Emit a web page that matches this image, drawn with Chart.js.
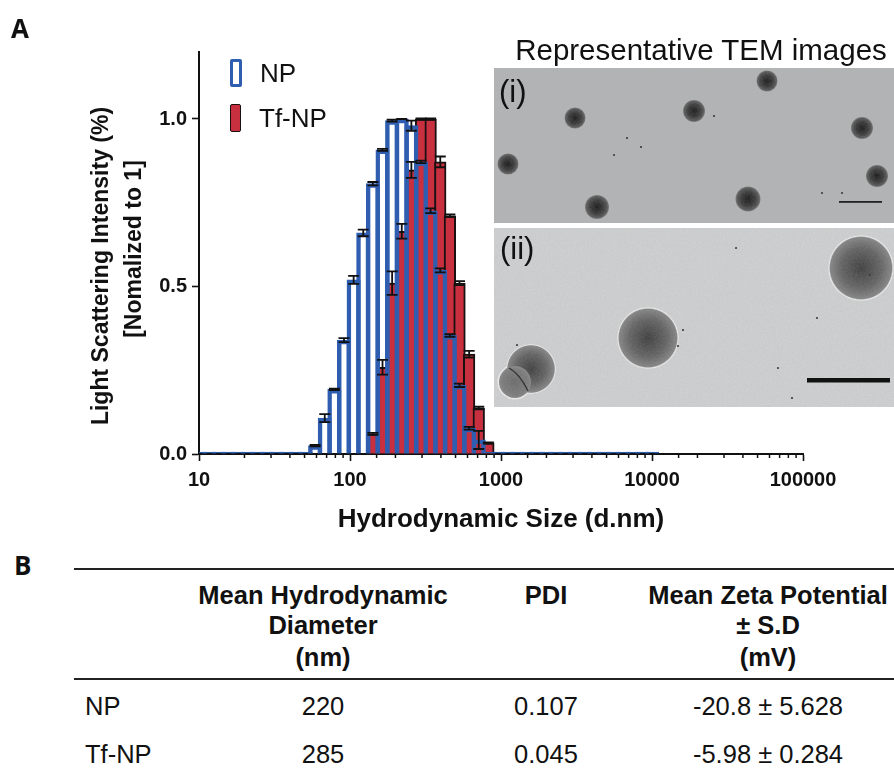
<!DOCTYPE html>
<html>
<head>
<meta charset="utf-8">
<title>Hydrodynamic size</title>
<script src="https://cdn.jsdelivr.net/npm/chart.js@4"></script>
<style>
  html, body { margin: 0; padding: 0; background: #fff; }
  body { width: 894px; height: 769px; position: relative; overflow: hidden; font-family: "Liberation Sans", Arial, sans-serif; color: #111; }
  #chartBox { position: absolute; left: 0; top: 0; width: 894px; height: 540px; }
  .abs { position: absolute; white-space: nowrap; }
  .ctr { transform: translate(-50%, -50%); text-align: center; }
  .mid { transform: translateY(-50%); }
  .rot { transform: translate(-50%, -50%) rotate(-90deg); }
  .rule { position: absolute; left: 74px; width: 820px; height: 2px; background: #222; }
  .swatch { position: absolute; box-sizing: border-box; border-radius: 2px; }
  svg { position: absolute; left: 0; top: 0; }
</style>
</head>
<body>
<div id="chartBox"><canvas id="sizeChart" width="894" height="540"></canvas></div>

<!-- TEM panels -->
<svg width="894" height="420" style="pointer-events:none">
  <defs>
    <filter id="grainA" x="0" y="0" width="100%" height="100%">
      <feTurbulence type="fractalNoise" baseFrequency="0.55" numOctaves="2" seed="4"/>
      <feColorMatrix type="matrix" values="0 0 0 0 0.4  0 0 0 0 0.4  0 0 0 0 0.4  0.7 0 0 0 -0.15"/>
    </filter>
    <radialGradient id="dotA">
      <stop offset="0" stop-color="#1c1c1c"/>
      <stop offset="0.55" stop-color="#3a3a3a"/>
      <stop offset="0.88" stop-color="#5a5a5a"/>
      <stop offset="1" stop-color="#7d7d7d"/>
    </radialGradient>
    <radialGradient id="dotB">
      <stop offset="0" stop-color="#3f3f3f"/>
      <stop offset="0.6" stop-color="#636363"/>
      <stop offset="0.93" stop-color="#858585"/>
      <stop offset="0.97" stop-color="#f0f0f0"/>
      <stop offset="1" stop-color="#d8d8d8"/>
    </radialGradient>
    <radialGradient id="dotC">
      <stop offset="0" stop-color="#6b6b6b"/>
      <stop offset="0.85" stop-color="#7d7d7d"/>
      <stop offset="1" stop-color="#8a8a8a"/>
    </radialGradient>
    <clipPath id="clipI"><rect x="494" y="68" width="400" height="155"/></clipPath>
    <clipPath id="clipII"><rect x="494" y="228" width="400" height="179"/></clipPath>
  </defs>
  <g id="panelI" clip-path="url(#clipI)"><rect x="494" y="68" width="400" height="155" fill="#b2b4b5"/></g>
  <g id="panelII" clip-path="url(#clipII)"><rect x="494" y="228" width="400" height="179" fill="#cfd0d1"/></g>
</svg>

<script>
// --- data ---
const sizeBins = [10.1, 11.7, 13.54, 15.69, 18.17, 21.04, 24.36, 28.21, 32.67, 37.84, 43.82, 50.75,
  58.77, 68.06, 78.82, 91.28, 105.7, 122.4, 141.8, 164.2, 190.1, 220.2, 255, 295.3, 342, 396.1,
  458.7, 531.2, 615.1, 712.4, 825, 955.4, 1106, 1281, 1484, 1718, 1990, 2305, 2669, 3091, 3580,
  4145, 4801, 5560, 6439, 7456, 8635, 10000];

const npValues = [0, 0, 0, 0, 0, 0, 0, 0, 0, 0, 0, 0,
  0.025, 0.107, 0.193, 0.34, 0.52, 0.66, 0.807, 0.908, 0.995, 1.0, 0.98, 0.872, 0.726, 0.548,
  0.354, 0.205, 0.077, 0.042, 0, 0, 0, 0, 0, 0, 0, 0, 0, 0, 0, 0, 0, 0, 0, 0, 0, 0];
const npErrors = [0, 0, 0, 0, 0, 0, 0, 0, 0, 0, 0, 0,
  0.002, 0.012, 0.002, 0.006, 0.012, 0.01, 0.005, 0.003, 0.003, 0, 0.015, 0.004, 0.007, 0.006,
  0.004, 0.005, 0.004, 0.027, 0, 0, 0, 0, 0, 0, 0, 0, 0, 0, 0, 0, 0, 0, 0, 0, 0, 0];

const tfValues = [0, 0, 0, 0, 0, 0, 0, 0, 0, 0, 0, 0,
  0, 0, 0, 0, 0, 0, 0.06, 0.259, 0.51, 0.665, 0.848, 1.0, 1.0, 0.872,
  0.711, 0.51, 0.298, 0.137, 0.033, 0, 0, 0, 0, 0, 0, 0, 0, 0, 0, 0, 0, 0, 0, 0, 0, 0];
const tfErrors = [0, 0, 0, 0, 0, 0, 0, 0, 0, 0, 0, 0,
  0, 0, 0, 0, 0, 0, 0.003, 0.022, 0.035, 0.022, 0.024, 0.002, 0.002, 0.016,
  0.004, 0.006, 0.01, 0.004, 0.002, 0, 0, 0, 0, 0, 0, 0, 0, 0, 0, 0, 0, 0, 0, 0, 0, 0];

const yTicks = [0, 0.5, 1];
const xLabels = [10, 100, 1000, 10000, 100000];

const tableHead = [['Mean Hydrodynamic', 'Diameter', '(nm)'], ['PDI'], ['Mean Zeta Potential', '\u00b1 S.D', '(mV)']];
const tableRowNames = ['NP', 'Tf-NP'];
const tableDiameter = ['220', '285'];
const tablePdi = ['0.107', '0.045'];
const tableZeta = ['-20.8 \u00b1 5.628', '-5.98 \u00b1 0.284'];

const BLUE = '#2f5db0';
const RED = '#c8303f';

// --- small html text helper ---
function addText(str, x, y, size, cls, bold, extra) {
  const el = document.createElement('div');
  el.className = 'abs ' + cls;
  el.textContent = str;
  el.style.left = x + 'px';
  el.style.top = y + 'px';
  el.style.fontSize = size + 'px';
  if (bold) el.style.fontWeight = 'bold';
  if (extra) Object.assign(el.style, extra);
  document.body.appendChild(el);
  return el;
}

// error bars and short minor ticks, both placed through the chart scales
const extrasPlugin = {
  id: 'extras',
  afterDraw(chart) {
    const { ctx, scales } = chart;
    const x = scales.x, y = scales.y;
    ctx.save();
    ctx.strokeStyle = '#111';
    ctx.lineWidth = 1.5;
    x.ticks.forEach(t => {
      if (xLabels.includes(t.value)) return;
      const px = x.getPixelForValue(t.value);
      ctx.beginPath();
      ctx.moveTo(px, y.bottom);
      ctx.lineTo(px, y.bottom + 4);
      ctx.stroke();
    });
    const drawErrors = (values, errors) => {
      sizeBins.forEach((s, i) => {
        if (!values[i]) return;
        const px = x.getPixelForValue(s);
        const top = y.getPixelForValue(values[i] + errors[i]);
        const bot = y.getPixelForValue(values[i] - errors[i]);
        ctx.lineWidth = 1.8;
        ctx.beginPath();
        ctx.moveTo(px, top); ctx.lineTo(px, bot);
        ctx.moveTo(px - 5.5, top); ctx.lineTo(px + 5.5, top);
        ctx.moveTo(px - 5.5, bot); ctx.lineTo(px + 5.5, bot);
        ctx.stroke();
      });
    };
    drawErrors(tfValues, tfErrors);
    drawErrors(npValues, npErrors);
    ctx.restore();
  }
};

const tickFont = { family: '"Liberation Sans", Arial, sans-serif', size: 20, weight: 'bold' };
const titleFont = { family: '"Liberation Sans", Arial, sans-serif', size: 26, weight: 'bold' };

new Chart(document.getElementById('sizeChart'), {
  type: 'bar',
  data: {
    datasets: [
      {
        label: 'NP',
        data: sizeBins.map((s, i) => ({ x: s, y: npValues[i] })),
        backgroundColor: 'rgba(0,0,0,0)',
        borderColor: BLUE,
        borderWidth: 3.8,
        borderSkipped: 'bottom',
        barThickness: 13.4,
        minBarLength: 2,
        grouped: false,
        order: 1
      },
      {
        label: 'Tf-NP',
        data: sizeBins.map((s, i) => ({ x: s, y: tfValues[i] })),
        backgroundColor: RED,
        borderColor: '#1a1012',
        borderWidth: 2,
        borderSkipped: 'bottom',
        barThickness: 11.6,
        grouped: false,
        order: 2
      }
    ]
  },
  options: {
    responsive: false,
    animation: false,
    devicePixelRatio: 1,
    layout: { padding: { left: 85, top: 52, right: 91, bottom: 5 } },
    plugins: { legend: { display: false }, tooltip: { enabled: false } },
    scales: {
      x: {
        type: 'logarithmic',
        min: 10,
        max: 100000,
        offset: false,
        afterFit: s => { s.height = 81; },
        grid: {
          display: true,
          drawOnChartArea: false,
          drawTicks: true,
          tickLength: 7,
          tickWidth: 1.6,
          tickColor: c => (xLabels.includes(c.tick && c.tick.value) ? '#111' : 'rgba(0,0,0,0)'),
          offset: false
        },
        border: { color: '#111', width: 2 },
        ticks: {
          autoSkip: false,
          maxRotation: 0,
          color: '#111',
          font: tickFont,
          padding: 7,
          callback: v => (xLabels.includes(v) ? String(v) : '')
        },
        title: { display: true, text: 'Hydrodynamic Size (d.nm)', color: '#111', font: titleFont, padding: { top: 10, bottom: 0 } }
      },
      y: {
        min: 0,
        max: 1.2,
        afterFit: s => { s.width = 114; },
        afterBuildTicks: s => { s.ticks = yTicks.map(v => ({ value: v })); },
        grid: { drawOnChartArea: false, tickLength: 7, tickWidth: 1.6, tickColor: '#111' },
        border: { color: '#111', width: 2 },
        ticks: { color: '#111', font: tickFont, padding: 5, callback: v => v.toFixed(1) }
      }
    }
  },
  plugins: [extrasPlugin]
});

// --- y axis title, the two lines are not centred on each other in the figure ---
addText('Light Scattering Intensity (%)', 100, 266, 23, 'rot', true);
addText('[Nomalized to 1]', 133, 249, 23, 'rot', true);

// --- legend ---
const swNp = document.createElement('div');
swNp.className = 'swatch';
Object.assign(swNp.style, { left: '230px', top: '59px', width: '12px', height: '28px', border: '3px solid ' + BLUE });
document.body.appendChild(swNp);
const swTf = document.createElement('div');
swTf.className = 'swatch';
Object.assign(swTf.style, { left: '230px', top: '104px', width: '11px', height: '28px', border: '1.5px solid #1a1012', background: RED });
document.body.appendChild(swTf);
addText('NP', 260, 73, 26, 'mid');
addText('Tf-NP', 259, 118, 26, 'mid');

// --- panel letters ---
addText('A', 11, 28, 26, 'mid', true, { fontFamily: '"Open Sans", sans-serif' });
addText('B', 14, 565, 26, 'mid', true, { fontFamily: '"Open Sans", sans-serif' });

// --- TEM images, drawn as plain svg shapes ---
const NS = 'http://www.w3.org/2000/svg';
function addSvg(parent, name, attrs) {
  const el = document.createElementNS(NS, name);
  Object.keys(attrs).forEach(k => el.setAttribute(k, attrs[k]));
  parent.appendChild(el);
}
const panelI = document.getElementById('panelI');
const panelII = document.getElementById('panelII');
const dotsI = [[508, 164, 10.5], [575, 118, 10.5], [597, 207, 12], [694, 111, 11], [767, 81, 10.5], [748, 199, 12.5], [862, 128, 11], [877, 176, 11]];
const dotsII = [[861, 268, 33], [648, 338, 31], [531, 369, 25]];
const specks = [[627, 138], [641, 147], [614, 155], [714, 116], [842, 193], [822, 193], [736, 248], [817, 318], [778, 368], [792, 398], [683, 330], [678, 346], [517, 345], [870, 275]];
dotsI.forEach(d => addSvg(panelI, 'circle', { cx: d[0], cy: d[1], r: d[2], fill: 'url(#dotA)' }));
addSvg(panelII, 'circle', { cx: 515, cy: 382, r: 17.5, fill: '#eeeeee' });
dotsII.forEach(d => addSvg(panelII, 'circle', { cx: d[0], cy: d[1], r: d[2], fill: 'url(#dotB)' }));
addSvg(panelII, 'circle', { cx: 515, cy: 382, r: 16, fill: 'url(#dotC)' });
addSvg(panelII, 'path', { d: 'M509 368 Q520 374 528 391', stroke: '#2a2a2a', 'stroke-width': 1.4, fill: 'none' });
specks.forEach(p => addSvg(p[1] < 224 ? panelI : panelII, 'circle', { cx: p[0], cy: p[1], r: 1.1, fill: '#333' }));
addSvg(panelI, 'rect', { x: 494, y: 68, width: 400, height: 155, filter: 'url(#grainA)', opacity: 0.35 });
addSvg(panelII, 'rect', { x: 494, y: 228, width: 400, height: 179, filter: 'url(#grainA)', opacity: 0.4 });
addSvg(panelI, 'rect', { x: 839, y: 201, width: 43, height: 1.8, fill: '#222' });
addSvg(panelII, 'rect', { x: 807, y: 378, width: 83, height: 4.5, fill: '#111' });
addText('Representative TEM images', 701, 50, 29.5, 'ctr');
addText('(i)', 499, 92, 31, 'mid');
addText('(ii)', 500, 249, 31, 'mid');

// --- table B ---
[569, 679].forEach(t => {
  const r = document.createElement('div');
  r.className = 'rule';
  r.style.top = (t - 1) + 'px';
  document.body.appendChild(r);
});
const colX = [323, 546, 768];
const headY = [595, 625, 657];
tableHead.forEach((lines, c) => {
  lines.forEach((txt, l) => addText(txt, colX[c], headY[l], 25.5, 'ctr', true));
});
const rowY = [706, 754];
tableRowNames.forEach((name, r) => {
  addText(name, 85, rowY[r], 25.5, 'mid');
  addText(tableDiameter[r], colX[0], rowY[r], 25.5, 'ctr');
  addText(tablePdi[r], colX[1], rowY[r], 25.5, 'ctr');
  addText(tableZeta[r], colX[2], rowY[r], 25.5, 'ctr');
});
</script>
</body>
</html>
